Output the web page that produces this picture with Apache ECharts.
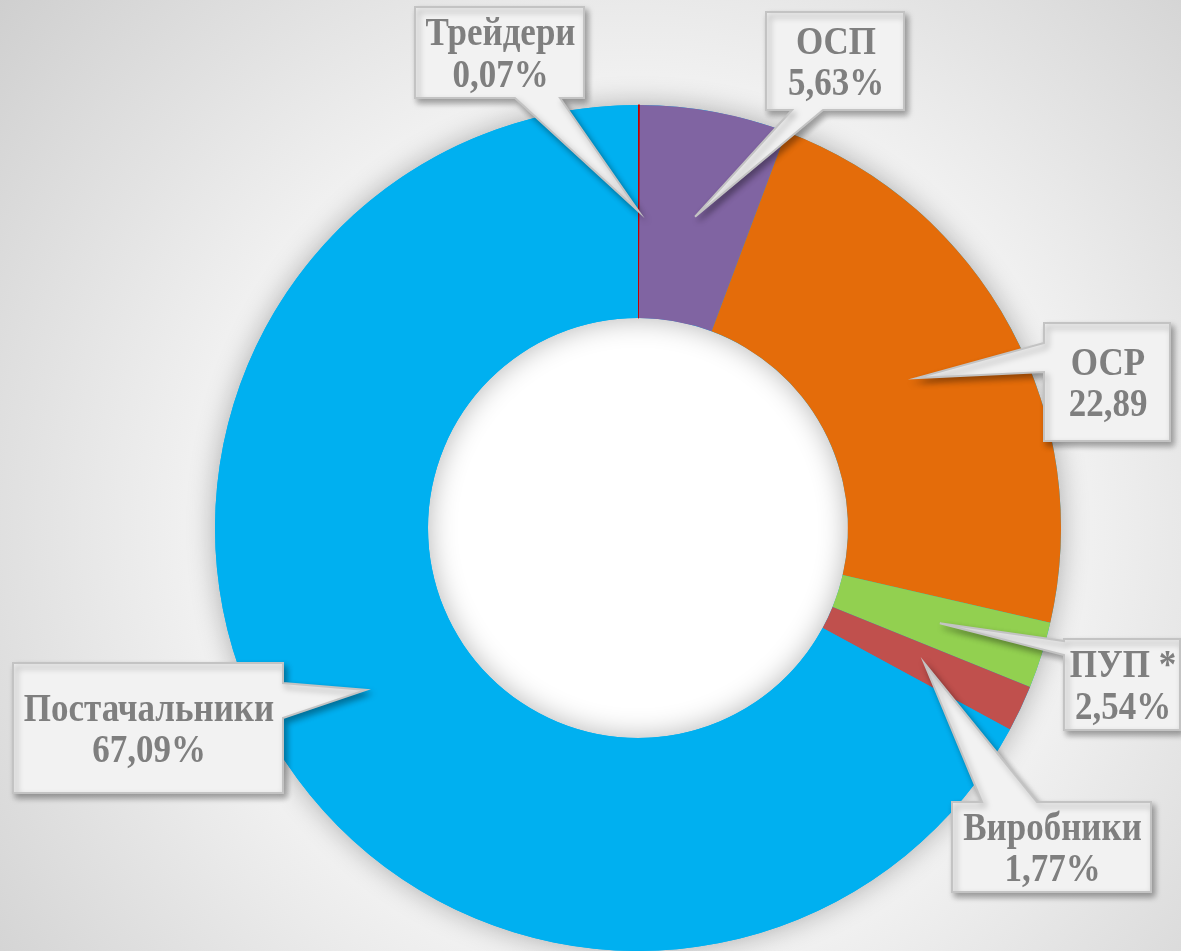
<!DOCTYPE html>
<html>
<head>
<meta charset="utf-8">
<script src="https://cdn.jsdelivr.net/npm/echarts@6/dist/echarts.min.js"></script>
<style>
html,body{margin:0;padding:0;}
#chart{width:1181px;height:951px;
background: radial-gradient(circle 830px at 638px 528px, #ffffff 0px, #ffffff 300px, #f3f3f3 420px, #e3e3e3 600px, #cfcfcf 830px);}
</style>
</head>
<body>
<div id="chart"></div>
<script>
// ---- data ----
const categories = ['Трейдери', 'ОСП', 'ОСР', 'ПУП *', 'Виробники', 'Постачальники'];
const values = [0.07, 5.63, 22.89, 2.54, 1.77, 67.09];
const showPercent = [true, true, false, true, true, true];
const colors = ['#c00000', '#8064a2', '#e46c0a', '#92d050', '#c0504d', '#00b0f0'];

// ---- callout layout (box rect, side that carries the pointer, pointer base span) ----
const callouts = [
  { x1: 415, y1: 7,   x2: 584,  y2: 98,  side: 'bottom', b1: 515, b2: 560 },
  { x1: 766, y1: 12,  x2: 904,  y2: 110, side: 'bottom', b1: 792, b2: 823 },
  { x1: 1044, y1: 323, x2: 1170, y2: 441, side: 'left',  b1: 343, b2: 372 },
  { x1: 1064, y1: 639, x2: 1180, y2: 730, side: 'left',  b1: 641, b2: 655 },
  { x1: 952, y1: 802, x2: 1151, y2: 892, side: 'top',    b1: 982, b2: 1037 },
  { x1: 13,  y1: 663, x2: 283,  y2: 793, side: 'right',  b1: 683, b2: 718 }
];

const CENTER = [638, 528];
const RADIUS = [210, 423];

const chart = echarts.init(document.getElementById('chart'), null, { renderer: 'canvas' });

const pieData = categories.map((c, i) => ({
  name: c,
  value: values[i],
  itemStyle: i === 0 ? { color: colors[i], borderColor: colors[i], borderWidth: 1 } : { color: colors[i] }
}));

chart.setOption({
  animation: false,
  backgroundColor: 'transparent',
  series: [
    {
      id: 'shadowRing',
      type: 'pie',
      silent: true,
      center: CENTER,
      radius: RADIUS,
      label: { show: false },
      labelLine: { show: false },
      emphasis: { disabled: true },
      itemStyle: { color: '#00b0f0', borderWidth: 0, shadowBlur: 28, shadowColor: 'rgba(0,0,0,0.3)' },
      data: [{ value: 1, name: '' }]
    },
    {
      id: 'main',
      type: 'pie',
      silent: true,
      center: CENTER,
      radius: RADIUS,
      startAngle: 90,
      clockwise: true,
      label: { show: false },
      labelLine: { show: false },
      emphasis: { disabled: true },
      itemStyle: { borderWidth: 0 },
      data: pieData
    }
  ]
});

function fmt(v) { return v.toFixed(2).replace('.', ','); }

let layouts = null;
try {
  const seriesModel = chart.getModel().getSeriesByIndex(1);
  const d = seriesModel.getData();
  layouts = values.map((v, i) => d.getItemLayout(i));
} catch (e) { layouts = null; }

const graphics = [];
callouts.forEach((c, i) => {
  let tip;
  if (layouts && layouts[i]) {
    const L = layouts[i];
    const a = (L.startAngle + L.endAngle) / 2;
    const r = (L.r + L.r0) / 2;
    tip = [L.cx + r * Math.cos(a), L.cy + r * Math.sin(a)];
  } else {
    return;
  }
  let pts;
  if (c.side === 'bottom') {
    pts = [[c.x1, c.y1], [c.x2, c.y1], [c.x2, c.y2], [c.b2, c.y2], tip, [c.b1, c.y2], [c.x1, c.y2]];
  } else if (c.side === 'left') {
    pts = [[c.x1, c.y1], [c.x2, c.y1], [c.x2, c.y2], [c.x1, c.y2], [c.x1, c.b2], tip, [c.x1, c.b1]];
  } else if (c.side === 'top') {
    pts = [[c.x1, c.y1], [c.b1, c.y1], tip, [c.b2, c.y1], [c.x2, c.y1], [c.x2, c.y2], [c.x1, c.y2]];
  } else {
    pts = [[c.x1, c.y1], [c.x2, c.y1], [c.x2, c.b1], tip, [c.x2, c.b2], [c.x2, c.y2], [c.x1, c.y2]];
  }
  graphics.push({
    type: 'polygon',
    z: 100,
    silent: true,
    shape: { points: pts },
    style: {
      fill: '#f2f2f2',
      stroke: '#c3c3c3',
      lineWidth: 2,
      lineJoin: 'miter',
      shadowBlur: 6,
      shadowOffsetX: 3,
      shadowOffsetY: 4,
      shadowColor: 'rgba(0,0,0,0.35)'
    }
  });
  graphics.push({
    type: 'text',
    z: 101,
    silent: true,
    x: (c.x1 + c.x2) / 2 + 1,
    y: (c.y1 + c.y2) / 2 + 3,
    scaleX: 1,
    scaleY: 1.15,
    style: {
      text: categories[i] + '\n' + fmt(values[i]) + (showPercent[i] ? '%' : ''),
      x: 0,
      y: 0,
      align: 'center',
      verticalAlign: 'middle',
      fill: '#7f7f7f',
      fontFamily: '"Liberation Serif", "Times New Roman", serif',
      fontWeight: 'bold',
      fontSize: 35,
      lineHeight: 36
    }
  });
});

chart.setOption({ graphic: graphics });
</script>
</body>
</html>
